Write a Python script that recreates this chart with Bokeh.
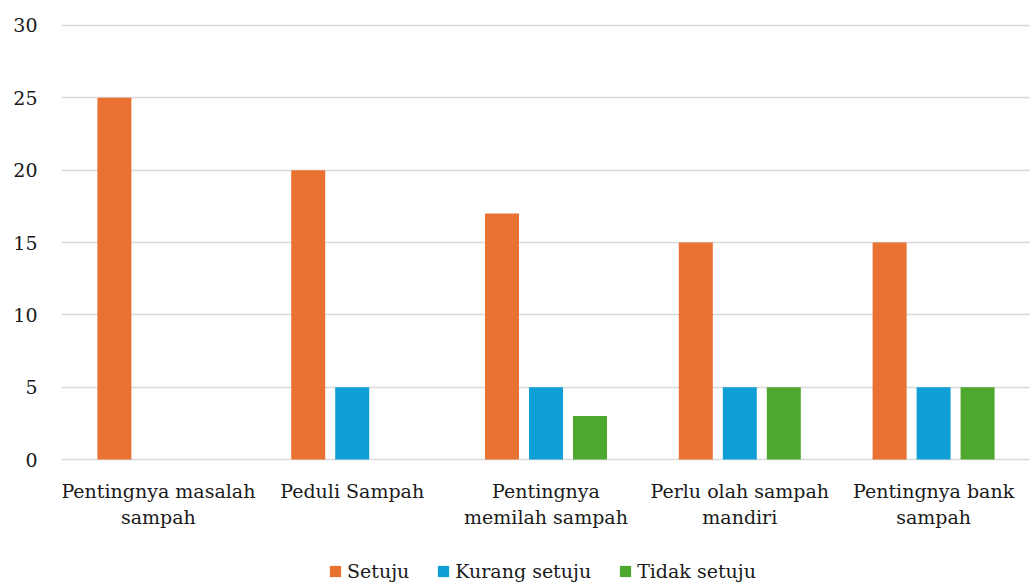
from bokeh.plotting import figure
from bokeh.models import FactorRange, Range1d, Legend, LegendItem, ColumnDataSource, FixedTicker
from bokeh.transform import dodge
from bokeh.embed import file_html
from bokeh.resources import INLINE

categories = ["Pentingnya masalah\nsampah", "Peduli Sampah", "Pentingnya\nmemilah sampah",
              "Perlu olah sampah\nmandiri", "Pentingnya bank\nsampah"]
setuju = [25, 20, 17, 15, 15]
kurang_setuju = [0, 5, 5, 5, 5]
tidak_setuju = [0, 0, 3, 5, 5]
series_names = ["Setuju", "Kurang setuju", "Tidak setuju"]
series_keys = ["setuju", "kurang", "tidak"]
colors = ["#E97132", "#0F9ED5", "#4EA72E"]
y_ticks = [0, 5, 10, 15, 20, 25, 30]

FONT = "DejaVu Serif"
TXT = "#1a1a1a"
FS = "19px"

source = ColumnDataSource(data=dict(cat=categories, setuju=setuju, kurang=kurang_setuju, tidak=tidak_setuju))

p = figure(frame_width=969, frame_height=560, x_range=FactorRange(*categories, range_padding=0),
           y_range=Range1d(-8.571, 30.138), output_backend="svg", toolbar_location=None,
           min_border_left=61, min_border_right=0, min_border_top=23, min_border_bottom=0)

offsets = [-0.227, 0.0, 0.227]
items = []
for key, name, col, off in zip(series_keys, series_names, colors, offsets):
    r = p.vbar(x=dodge("cat", off, range=p.x_range), top=key, bottom=0, width=0.1754, source=source,
               fill_color=col, line_color=None)
    items.append(LegendItem(label=name, renderers=[r]))

p.outline_line_color = None
p.xgrid.grid_line_color = None
p.ygrid.grid_line_color = "#d9d9d9"
p.ygrid.grid_line_width = 1.5
p.yaxis.ticker = FixedTicker(ticks=y_ticks)
p.xaxis.fixed_location = 0

for ax in (p.xaxis[0], p.yaxis[0]):
    ax.axis_line_color = None
    ax.major_tick_line_color = None
    ax.minor_tick_line_color = None
    ax.major_tick_out = 0
    ax.major_tick_in = 0
    ax.major_label_text_font = FONT
    ax.major_label_text_font_size = FS
    ax.major_label_text_color = TXT

p.yaxis.major_label_standoff = 24
p.xaxis.major_label_standoff = 20

legend = Legend(items=items, orientation="horizontal", location=(267, 1),
                glyph_width=14, glyph_height=14, label_standoff=5, spacing=27,
                padding=0, margin=0, border_line_alpha=0, background_fill_alpha=0,
                label_text_font=FONT, label_text_font_size=FS, label_text_color=TXT)
p.add_layout(legend, "center")

open("out.html", "w").write(file_html(p, INLINE))
